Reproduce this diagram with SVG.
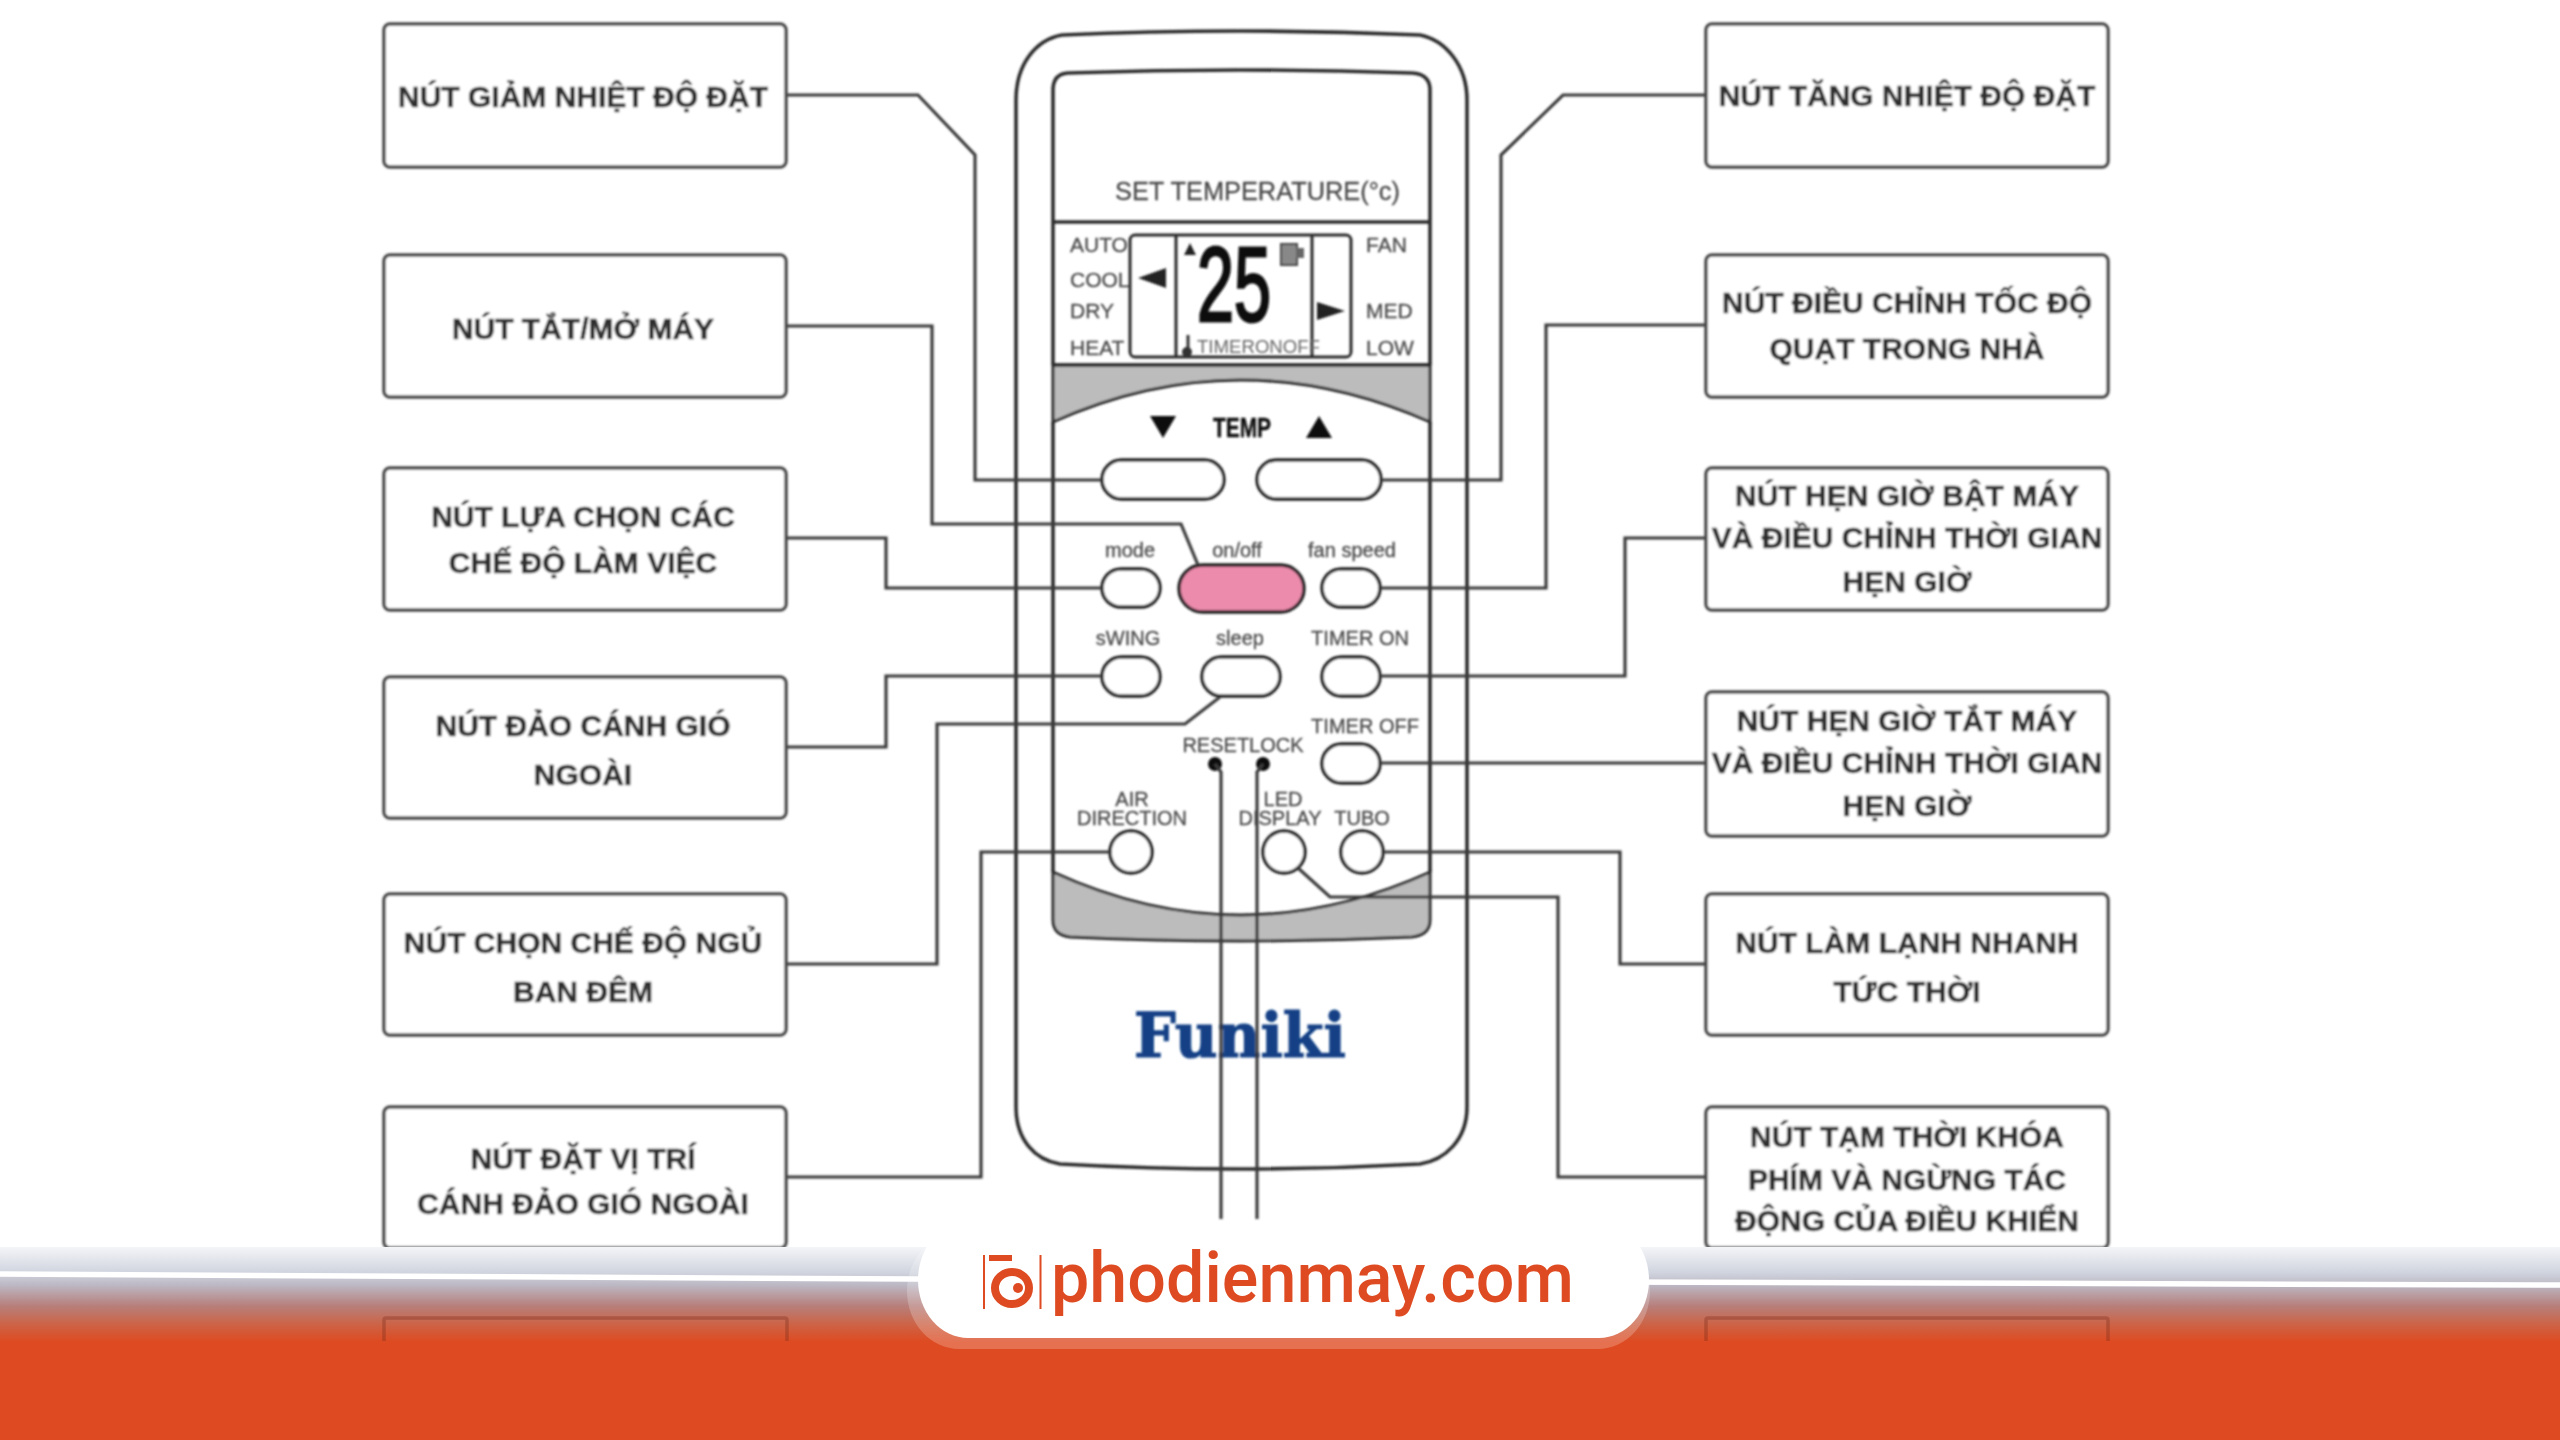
<svg xmlns="http://www.w3.org/2000/svg" width="2560" height="1440" viewBox="0 0 2560 1440">
<style>
.box{fill:#fff;stroke:#4a4a4a;stroke-width:3.5}
.lb{font-family:"Liberation Sans",Arial,sans-serif;font-weight:700;font-size:30px;fill:#2e2e2e;stroke:#2e2e2e;stroke-width:.6;text-anchor:middle}
.cn{fill:none;stroke:#3a3a3a;stroke-width:3.2}
.rm{fill:none;stroke:#2c2c2c;stroke-width:3.6}
.btn{fill:#fff;stroke:#222;stroke-width:3.4}
.grey{fill:#bcbcbc;stroke:#2c2c2c;stroke-width:3}
.t{font-family:"Liberation Sans",Arial,sans-serif;font-size:20px;fill:#4a4a4a;stroke:#4a4a4a;stroke-width:.3;text-anchor:middle}
.s{font-family:"Liberation Sans",Arial,sans-serif;font-size:21px;fill:#4a4a4a;stroke:#4a4a4a;stroke-width:.3}
</style>
<defs>
<filter id="soft" x="0" y="0" width="2560" height="1440" filterUnits="userSpaceOnUse"><feGaussianBlur stdDeviation="1"/></filter>
<linearGradient id="fade" x1="0" y1="1247" x2="0" y2="1342" gradientUnits="userSpaceOnUse">
<stop offset="0" stop-color="#f4f5f8"/><stop offset=".27" stop-color="#d0d4de"/><stop offset=".4" stop-color="#bcb8c4"/><stop offset=".62" stop-color="#b77f7b"/><stop offset=".82" stop-color="#cd6345"/><stop offset="1" stop-color="#de4a21"/>
</linearGradient>
</defs>
<rect width="2560" height="1440" fill="#fff"/>
<g filter="url(#soft)">
<g id="remote">
<path class="rm" fill="#fff" d="M1016,100C1016,65 1035,40 1062,35Q1240,27 1420,35C1445,40 1467,65 1467,100V1107C1467,1140 1445,1160 1420,1164Q1240,1174 1060,1164C1035,1160 1016,1140 1016,1107Z"/>
<path class="grey" d="M1053,365H1430V422Q1240,338 1053,422Z"/>
<path class="grey" d="M1053,872Q1240,958 1430,872V920Q1430,935 1412,937Q1240,945 1070,937Q1053,935 1053,920Z"/>
<path class="rm" d="M1053,365V90Q1053,74 1068,73Q1240,67 1412,73Q1430,74 1430,90V365M1053,422V872M1430,422V872M1053,222H1430M1053,365H1430"/>
<text x="1115" y="200" font-family="Liberation Sans, Arial, sans-serif" font-size="26" fill="#4a4a4a" stroke="#4a4a4a" stroke-width=".3" textLength="285" lengthAdjust="spacingAndGlyphs">SET TEMPERATURE(°c)</text>
<text class="s" x="1070" y="252">AUTO</text><text class="s" x="1070" y="287">COOL</text><text class="s" x="1070" y="318">DRY</text><text class="s" x="1070" y="355">HEAT</text>
<text class="s" x="1366" y="252">FAN</text><text class="s" x="1366" y="318">MED</text><text class="s" x="1366" y="355">LOW</text>
<rect x="1130" y="235" width="221" height="122" rx="5" fill="none" stroke="#2c2c2c" stroke-width="3"/>
<path d="M1176,235V357M1312,235V357" stroke="#2c2c2c" stroke-width="3"/>
<path d="M1138,278L1166,268V288ZM1317,302L1345,311L1317,320ZM1190,243L1196,255H1184Z" fill="#222"/>
<rect x="1281" y="244" width="16" height="21" fill="#888" stroke="#444" stroke-width="2"/><rect x="1296" y="248" width="8" height="10" fill="#666"/>
<text x="1197" y="321" font-family="Liberation Sans, Arial, sans-serif" font-size="106" fill="#111" stroke="#111" stroke-width="3" textLength="74" lengthAdjust="spacingAndGlyphs">25</text>
<path d="M1188,335V350" stroke="#333" stroke-width="3"/><circle cx="1187" cy="352" r="5" fill="#333"/>
<text x="1197" y="353" font-family="Liberation Sans, Arial, sans-serif" font-size="18" fill="#666" textLength="123" lengthAdjust="spacingAndGlyphs">TIMERONOFF</text>
<path d="M1150,416H1176L1163,438ZM1306,438H1332L1319,416Z" fill="#111"/>
<text x="1213" y="437" font-family="Liberation Sans, Arial, sans-serif" font-weight="700" font-size="27" fill="#111" stroke="#111" stroke-width=".5" textLength="58" lengthAdjust="spacingAndGlyphs">TEMP</text>
<text class="t" x="1130" y="557">mode</text><text class="t" x="1237" y="557">on/off</text><text class="t" x="1352" y="557">fan speed</text>
<text class="t" x="1128" y="645">sWING</text><text class="t" x="1240" y="645">sleep</text><text class="t" x="1360" y="645">TIMER ON</text>
<text class="t" x="1365" y="733">TIMER OFF</text><text class="t" x="1243" y="752">RESETLOCK</text>
<text class="t" x="1132" y="806">AIR</text><text class="t" x="1132" y="825">DIRECTION</text>
<text class="t" x="1283" y="806">LED</text><text class="t" x="1280" y="825">DISPLAY</text><text class="t" x="1362" y="825">TUBO</text>
<rect class="btn" x="1102" y="460" width="122" height="39" rx="19.5"/>
<rect class="btn" x="1257" y="460" width="124" height="39" rx="19.5"/>
<rect class="btn" x="1102" y="569" width="58" height="38" rx="19"/>
<rect class="btn" x="1179" y="565" width="125" height="47" rx="23.5" style="fill:#ec8bac"/>
<rect class="btn" x="1322" y="569" width="58" height="38" rx="19"/>
<rect class="btn" x="1102" y="657" width="58" height="39" rx="19.5"/>
<rect class="btn" x="1202" y="657" width="78" height="39" rx="19.5"/>
<rect class="btn" x="1322" y="657" width="58" height="39" rx="19.5"/>
<rect class="btn" x="1322" y="744" width="58" height="39" rx="19.5"/>
<circle class="btn" cx="1131" cy="852" r="21"/><circle class="btn" cx="1284" cy="852" r="21"/><circle class="btn" cx="1362" cy="852" r="21"/>
<circle cx="1215" cy="764" r="7" fill="#111"/><circle cx="1263" cy="764" r="7" fill="#111"/>
<text x="1134" y="1057" font-family="DejaVu Serif, serif" font-weight="700" font-size="62" fill="#123f85" stroke="#123f85" stroke-width="1.2" textLength="212" lengthAdjust="spacingAndGlyphs">Funiki</text>
</g>
<g id="connectors">
<path class="cn" d="M787,95H918L975,155V480H1102"/>
<path class="cn" d="M787,326H932V524H1181L1198,565"/>
<path class="cn" d="M787,538H886V588H1102"/>
<path class="cn" d="M787,747H886V676H1102"/>
<path class="cn" d="M787,964H937V724H1185L1220,697"/>
<path class="cn" d="M787,1177H981V852H1110"/>
<path class="cn" d="M1706,95H1563L1501,155V480H1381"/>
<path class="cn" d="M1706,325H1546V588H1380"/>
<path class="cn" d="M1706,538H1625V676H1380"/>
<path class="cn" d="M1706,763H1380"/>
<path class="cn" d="M1706,964H1620V852H1383"/>
<path class="cn" d="M1706,1177H1558V897H1330L1298,868"/>
<path class="cn" d="M1215,764L1221,772V1219"/>
<path class="cn" d="M1263,764L1257,772V1219"/>
</g>
<g id="n-giam"><rect class="box" x="384" y="24" width="402" height="143" rx="6"/><text class="lb" x="583" y="107">NÚT GIẢM NHIỆT ĐỘ ĐẶT</text></g>
<g id="n-tatmo"><rect class="box" x="384" y="255" width="402" height="142" rx="6"/><text class="lb" x="583" y="339">NÚT TẮT/MỞ MÁY</text></g>
<g id="n-che-do"><rect class="box" x="384" y="468" width="402" height="142" rx="6"/><text class="lb" x="583" y="527">NÚT LỰA CHỌN CÁC</text><text class="lb" x="583" y="573">CHẾ ĐỘ LÀM VIỆC</text></g>
<g id="n-dao"><rect class="box" x="384" y="677" width="402" height="141" rx="6"/><text class="lb" x="583" y="736">NÚT ĐẢO CÁNH GIÓ</text><text class="lb" x="583" y="785">NGOÀI</text></g>
<g id="n-ngu"><rect class="box" x="384" y="894" width="402" height="141" rx="6"/><text class="lb" x="583" y="953">NÚT CHỌN CHẾ ĐỘ NGỦ</text><text class="lb" x="583" y="1002">BAN ĐÊM</text></g>
<g id="n-vitri"><rect class="box" x="384" y="1107" width="402" height="141" rx="6"/><text class="lb" x="583" y="1169">NÚT ĐẶT VỊ TRÍ</text><text class="lb" x="583" y="1214">CÁNH ĐẢO GIÓ NGOÀI</text></g>
<g id="n-tang"><rect class="box" x="1706" y="24" width="402" height="143" rx="6"/><text class="lb" x="1907" y="106">NÚT TĂNG NHIỆT ĐỘ ĐẶT</text></g>
<g id="n-quat"><rect class="box" x="1706" y="255" width="402" height="142" rx="6"/><text class="lb" x="1907" y="313">NÚT ĐIỀU CHỈNH TỐC ĐỘ</text><text class="lb" x="1907" y="359">QUẠT TRONG NHÀ</text></g>
<g id="n-hen-bat"><rect class="box" x="1706" y="468" width="402" height="142" rx="6"/><text class="lb" x="1907" y="506">NÚT HẸN GIỜ BẬT MÁY</text><text class="lb" x="1907" y="548">VÀ ĐIỀU CHỈNH THỜI GIAN</text><text class="lb" x="1907" y="592">HẸN GIỜ</text></g>
<g id="n-hen-tat"><rect class="box" x="1706" y="692" width="402" height="144" rx="6"/><text class="lb" x="1907" y="731">NÚT HẸN GIỜ TẮT MÁY</text><text class="lb" x="1907" y="773">VÀ ĐIỀU CHỈNH THỜI GIAN</text><text class="lb" x="1907" y="816">HẸN GIỜ</text></g>
<g id="n-lanh"><rect class="box" x="1706" y="894" width="402" height="141" rx="6"/><text class="lb" x="1907" y="953">NÚT LÀM LẠNH NHANH</text><text class="lb" x="1907" y="1002">TỨC THỜI</text></g>
<g id="n-khoa"><rect class="box" x="1706" y="1107" width="402" height="141" rx="6"/><text class="lb" x="1907" y="1147">NÚT TẠM THỜI KHÓA</text><text class="lb" x="1907" y="1190">PHÍM VÀ NGỪNG TÁC</text><text class="lb" x="1907" y="1231">ĐỘNG CỦA ĐIỀU KHIỂN</text></g>
</g>
<g id="footer">
<rect y="1247" width="2560" height="95" fill="url(#fade)"/>
<rect y="1342" width="2560" height="98" fill="#de4a21"/>
<path d="M384,1341V1320Q384,1318 386,1318H785Q787,1318 787,1320V1341M1706,1341V1320Q1706,1318 1708,1318H2106Q2108,1318 2108,1320V1341" fill="none" stroke="#7a2a1a" stroke-opacity=".35" stroke-width="3.5"/>
<path d="M0,1274Q900,1280 1280,1281T2560,1285" fill="none" stroke="#fff" stroke-width="5.5"/>
<rect x="907" y="1233" width="743" height="116" rx="52" ry="58" fill="#fff" fill-opacity=".22"/>
<rect x="918" y="1222" width="731" height="116" rx="50" ry="58" fill="#fff"/>
<g id="logo" fill="#de4a21">
<rect x="983" y="1255" width="2" height="54"/><rect x="1039.500" y="1255" width="2" height="54"/>
<rect x="989" y="1255" width="23" height="6"/>
<ellipse cx="1012" cy="1288" rx="17" ry="16" fill="none" stroke="#de4a21" stroke-width="8"/>
<circle cx="1018" cy="1288" r="5" fill="#de4a21"/>
</g>
<text x="1051" y="1302" font-family="Roboto, Arial, sans-serif" font-weight="500" font-size="70" fill="#de4a21" textLength="523" lengthAdjust="spacingAndGlyphs">phodienmay.com</text>
</g>
</svg>
